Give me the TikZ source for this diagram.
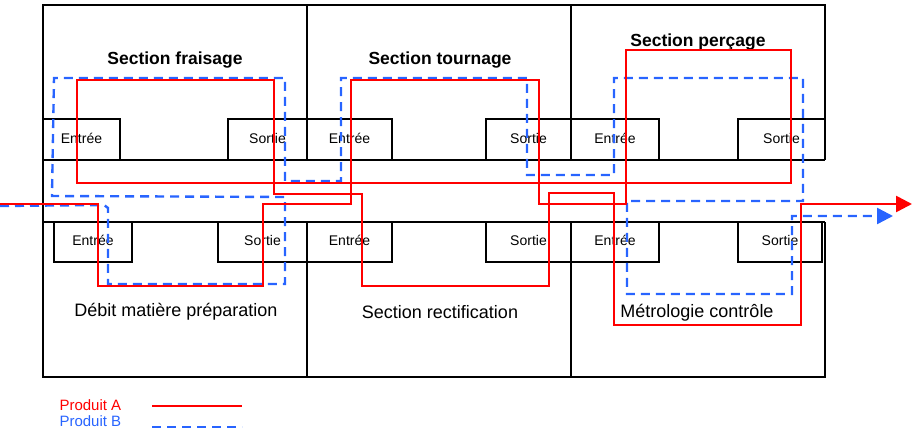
\documentclass[tikz,border=0pt]{standalone}
\usepackage{fontspec}
\setmainfont{Liberation Sans}
\usetikzlibrary{arrows.meta}
\tikzset{
  wall/.style={draw=black, line width=1.2pt},
  poste/.style={draw=black, line width=1.2pt},
  txt/.style={font=\fontsize{14}{16}\selectfont},
  leg/.style={font=\fontsize{15}{17}\selectfont},
  titre/.style={font=\fontsize{17.5}{20}\selectfont\bfseries},
  nom/.style={font=\fontsize{18}{20}\selectfont},
  prodA/.style={draw=red, line width=2.6pt},
  prodB/.style={draw={rgb,255:red,40;green,100;blue,255}, line width=2.4pt, dash pattern=on 9pt off 6pt},
}
\begin{document}
\begin{tikzpicture}[x=1pt,y=-1pt]
        \useasboundingbox (0,0) rectangle (923,435);
        % murs
        \draw [wall] (825,160) -- (825,5) -- (43,5) -- (43,377) -- (825,377) -- (825,222);
        \draw [wall] (307,5) -- (307,160) (307,222) -- (307,377);
        \draw [wall] (571,5) -- (571,160) (571,222) -- (571,377);
        \draw [wall] (43,160) -- (825,160) (43,222) -- (825,222);
        % postes haut
        \foreach \a/\b/\t in {43/120/Entrée,228/307/Sortie,307/392/Entrée,486/571/Sortie,571/659/Entrée,738/825/Sortie}{
                \draw [poste] (\a,160) -- (\a,119) -- (\b,119) -- (\b,160);
                \node [txt] at ({(\a+\b)/2},138) {\t};
        }
        % postes bas
        \foreach \a/\b/\t in {54/132/Entrée,218/307/Sortie,307/392/Entrée,486/571/Sortie,571/659/Entrée,738/822/Sortie}{
                \draw [poste] (\a,222) rectangle (\b,262);
                \node [txt] at ({(\a+\b)/2},240) {\t};
        }
        % sections
        \node (fraisage) [titre] at (175,60) {Section fraisage};
        \node (tournage) [titre] at (440,60) {Section tournage};
        \node (percage) [titre] at (698,42) {Section perçage};
        \node (debit) [nom] at (176,312) {Débit matière préparation};
        \node (rectif) [nom] at (440,312) {Section rectification};
        \node (metro) [nom] at (697,313) {Métrologie contrôle};
        % produit B
        \draw [prodB, -{Triangle[length=16pt,width=16pt]}] (0,206) -- (104,205) -- (108,208) -- (108,284) -- (285,284) -- (285,197)
                -- (52,196) -- (54,78) -- (285,78) -- (285,181) -- (341,181) -- (341,78) -- (527,78) -- (527,175)
                -- (614,175) -- (614,78) -- (803,78) -- (803,201) -- (627,201) -- (627,294) -- (792,294) -- (792,216) -- (893,216);
        % produit A
        \draw [prodA, -{Triangle[length=16pt,width=16pt]}] (0,204) -- (98,204) -- (98,286) -- (263,286) -- (263,204) -- (351,204)
                -- (351,80) -- (539,80) -- (539,204) -- (626,204) -- (626,50) -- (791,50) -- (791,183) -- (77,183)
                -- (77,80) -- (274,80) -- (274,194) -- (362,194) -- (362,286) -- (549,286) -- (549,193) -- (614,193)
                -- (614,325) -- (801,325) -- (801,204) -- (912,204);
        % legende
        \node (legA) [leg, text=red, anchor=west] at (56,405) {Produit A};
        \node (legB) [leg, text={rgb,255:red,40;green,100;blue,255}, anchor=west] at (56,421) {Produit B};
        \coordinate (legA1) at (152,406);
        \coordinate (legA2) at (242,406);
        \coordinate (legB1) at (152,427);
        \coordinate (legB2) at (242,427);
        \draw [prodA] (legA1) -- (legA2);
        \draw [prodB] (legB1) -- (legB2);
\end{tikzpicture}
\end{document}
